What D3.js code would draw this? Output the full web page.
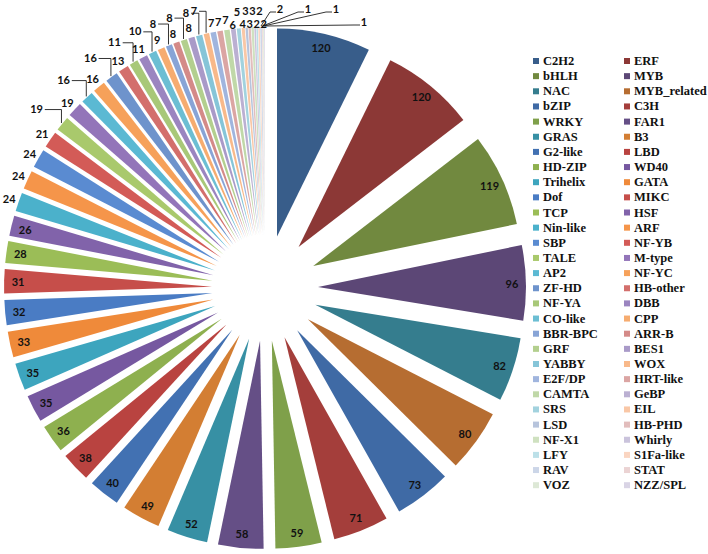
<!DOCTYPE html>
<html>
<head>
<meta charset="utf-8">
<script src="https://cdn.jsdelivr.net/npm/d3@7/dist/d3.min.js"></script>
<style>
  body { margin: 0; background: #fff; }
  svg { display: block; }
  .legend text { font-family: "Liberation Serif", "DejaVu Serif", "Times New Roman", serif; font-weight: 700; font-size: 12.5px; fill: #111; }
  .labels text { font-family: Lato, "Open Sans", sans-serif; font-weight: 700; font-size: 11px; fill: #111; }
</style>
</head>
<body>
<svg id="chart" width="708" height="554"></svg>
<script>
// TF families, clockwise from 12 o'clock
const families = [
  'C2H2', 'ERF', 'bHLH', 'MYB', 'NAC', 'MYB_related', 'bZIP', 'C3H', 'WRKY', 'FAR1',
  'GRAS', 'B3', 'G2-like', 'LBD', 'HD-ZIP', 'WD40', 'Trihelix', 'GATA', 'Dof', 'MIKC',
  'TCP', 'HSF', 'Nin-like', 'ARF', 'SBP', 'NF-YB', 'TALE', 'M-type', 'AP2', 'NF-YC',
  'ZF-HD', 'HB-other', 'NF-YA', 'DBB', 'CO-like', 'CPP', 'BBR-BPC', 'ARR-B', 'GRF', 'BES1',
  'YABBY', 'WOX', 'E2F/DP', 'HRT-like', 'CAMTA', 'GeBP', 'SRS', 'EIL', 'LSD', 'HB-PHD',
  'NF-X1', 'Whirly', 'LFY', 'S1Fa-like', 'RAV', 'STAT', 'VOZ', 'NZZ/SPL'
];

const counts = [
  120, 120, 119, 96, 82, 80, 73, 71, 59, 58,
  52, 49, 40, 38, 36, 35, 35, 33, 32, 31,
  28, 26, 24, 24, 24, 21, 19, 19, 16, 16,
  16, 13, 11, 11, 10, 9, 8, 8, 8, 8,
  8, 7, 7, 7, 7, 6, 5, 4, 3, 3,
  3, 2, 2, 2, 2, 1, 1, 1
];

const colors = [
  '#385D8A', '#8C3836', '#71893F', '#5C4776', '#357D8E', '#B66D31',
  '#3F6AA5', '#A43E3B', '#7FA04A', '#654F86', '#3790A4', '#D37E33',
  '#4271B2', '#B94340', '#8EB04F', '#7658A0', '#3DA5BE', '#EF8A3A',
  '#4A7CC4', '#C64E4A', '#9BBD57', '#8163AA', '#4BB1CB', '#F5954A',
  '#5A8BD1', '#D35B57', '#A9C96C', '#9375B9', '#5BB9D3', '#F6A15A',
  '#6E93CC', '#D36F6C', '#A8C878', '#9B85C0', '#6CBED3', '#F6AC70',
  '#88A4D6', '#D48A88', '#B3CF8E', '#A99AC8', '#86C5D8', '#F8B98A',
  '#A0B5DE', '#DBA5A3', '#C0D8A8', '#BBB0D2', '#A2D2DE', '#F9C7A6',
  '#B7C4DC', '#E2BDBC', '#CFE1C0', '#CAC3DC', '#BCE0E8', '#FAD5C1',
  '#CCD6E8', '#EBD3D3', '#DDE8D6', '#D9D4E5'
];

const cx = 265, cy = 288;
const radius = 208;
const explode = 53;

const rows = families.map((name, i) => ({ name, value: counts[i], color: colors[i], i }));

const svg = d3.select('#chart');

const pie = d3.pie()
  .sort(null)
  .value(d => d.value);

const arc = d3.arc()
  .innerRadius(0)
  .outerRadius(radius);

const arcs = pie(rows);

// point at distance rr from the exploded slice's apex, along its bisector
const along = (d, rr) => {
  const mid = (d.startAngle + d.endAngle) / 2;
  const s = Math.sin(mid), c = Math.cos(mid);
  return [cx + (explode + rr) * s, cy - (explode + rr) * c];
};

svg.append('g')
  .selectAll('path')
  .data(arcs)
  .join('path')
  .attr('transform', d => {
    const mid = (d.startAngle + d.endAngle) / 2;
    return `translate(${cx + explode * Math.sin(mid)},${cy - explode * Math.cos(mid)})`;
  })
  .attr('d', arc)
  .attr('fill', d => d.data.color);

// label placement rule, roughly what excel did
const tierOf = (i, v) => {
  if (v >= 26) return 'inside';
  if (i <= 25) return 'near';
  if (i >= 54) return 'right';
  if (i <= 40) return (i - 26) % 2 === 0 ? 'far' : 'near';
  if (i === 41) return 'far';
  if (i <= 44) return 'near';
  return i % 2 === 0 ? 'high' : 'low';
};

const labelG = svg.append('g').attr('class', 'labels');

const leaderG = svg.append('g')
  .attr('fill', 'none')
  .attr('stroke', '#000')
  .attr('stroke-width', 0.8);

const lastX = {};  // crude collision pass per tier for the crowded top

arcs.forEach(d => {
  const i = d.data.i;
  const tier = tierOf(i, d.data.value);
  const txt = String(d.data.value);
  const w = txt.length * 6.2;
  let x, y;
  if (tier === 'inside') {
    [x, y] = along(d, radius - 14);
  } else if (tier === 'near') {
    [x, y] = along(d, radius + 10);
  } else if (tier === 'low' || tier === 'high') {
    [x, y] = along(d, tier === 'low' ? radius + 4 : radius + 17);
  } else if (tier === 'far') {
    [x, y] = along(d, radius + 24);
    x -= 7;
    const p = along(d, radius + 1);
    const sx = x + w / 2 + 2;
    leaderG.append('polyline')
      .attr('points', [[sx, y + 1], [Math.max(p[0], sx + 3), y + 1], p].map(q => q.join(',')).join(' '));
  } else {
    const j = i - 54;
    x = cx + 15 + 28 * j;
    y = j === 3 ? 21 : 8;
    const p = along(d, radius + 1);
    leaderG.append('polyline')
      .attr('points', [p, [x - 10, y + 4], [x - 4, y + 4]].map(q => q.join(',')).join(' '));
  }
  if (i >= 36 && tier !== 'right') {
    const key = tier === 'far' ? 'far' : (tier === 'high' ? 'high' : 'near');
    if (lastX[key] !== undefined) x = Math.max(x, lastX[key] + 7);
    lastX[key] = x;
  }
  labelG.append('text')
    .attr('x', x)
    .attr('y', y)
    .attr('text-anchor', 'middle')
    .attr('dominant-baseline', 'central')
    .text(txt);
});

// legend, two columns, row-major
const legendTop = 60, rowStep = 15.15;
const colX = [533, 624];

const item = svg.append('g')
  .attr('class', 'legend')
  .selectAll('g.item')
  .data(rows)
  .join('g')
  .attr('class', 'item')
  .attr('transform', d => `translate(${colX[d.i % 2]},${legendTop + Math.floor(d.i / 2) * rowStep})`);

item.append('rect')
  .attr('x', 0)
  .attr('y', -2)
  .attr('width', 6)
  .attr('height', 6)
  .attr('fill', d => d.color);

item.append('text')
  .attr('x', 10)
  .attr('y', 1)
  .attr('dominant-baseline', 'central')
  .text(d => d.name);
</script>
</body>
</html>
